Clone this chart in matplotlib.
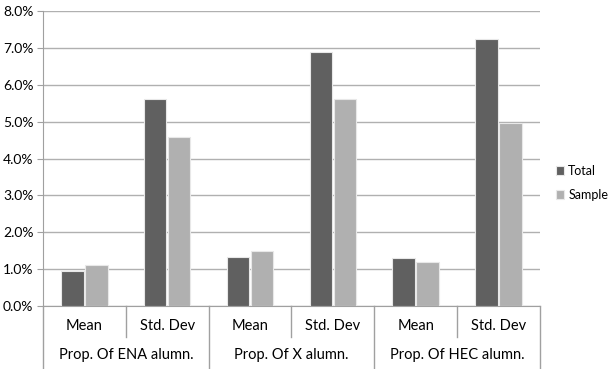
import matplotlib.pyplot as plt
import numpy as np
from matplotlib.lines import Line2D

groups = ["Prop. Of ENA alumn.", "Prop. Of X alumn.", "Prop. Of HEC alumn."]
stats = ["Mean", "Std. Dev"]
total = [0.95, 5.61, 1.33, 6.90, 1.30, 7.25]
sample = [1.10, 4.57, 1.49, 5.61, 1.19, 4.95]

plt.rcParams['font.family'] = ['Lato', 'DejaVu Sans']

fig = plt.figure(figsize=(6.12, 3.69), dpi=100)
ax = fig.add_axes([0.0703, 0.1707, 0.8117, 0.7995])

x = np.arange(len(total)) + 0.5
w = 0.27
off = 0.145
ax.bar(x - off, total, w, color="#606060", edgecolor="#e8e8e8", linewidth=0.8, label="Total", zorder=3)
ax.bar(x + off, sample, w, color="#b0b0b0", edgecolor="#e8e8e8", linewidth=0.8, label="Sample", zorder=3)

ax.set_xlim(0, 6)
ax.set_ylim(0, 8)
ax.set_yticks(np.arange(0, 9, 1))
ax.set_yticklabels(["%.1f%%" % v for v in np.arange(0, 9, 1)])
ax.yaxis.grid(True, color="#b0b0b0", linewidth=1)
ax.set_axisbelow(True)
ax.set_xticks([])
for s in ["top", "right"]:
    ax.spines[s].set_visible(False)
ax.spines["bottom"].set_color("#a0a0a0")
ax.spines["left"].set_color("#a0a0a0")
ax.spines["left"].set_bounds(0, 8)
ax.tick_params(axis="y", length=4, color="#a0a0a0", labelsize=10, pad=3)

trans = ax.get_xaxis_transform()
# short dividers between Mean / Std. Dev
for i in [1, 3, 5]:
    ax.add_line(Line2D([i, i], [0, -0.105], transform=trans, color="#a0a0a0", lw=1, clip_on=False))
# long dividers between groups
for i in [0, 2, 4, 6]:
    ax.add_line(Line2D([i, i], [0, -0.22], transform=trans, color="#a0a0a0", lw=1, clip_on=False))

for i, xc in enumerate(x):
    ax.text(xc, -0.068, stats[i % 2], transform=trans, ha="center", va="center", fontsize=10.5)
for j, g in enumerate(groups):
    ax.text(2 * j + 1, -0.166, g, transform=trans, ha="center", va="center", fontsize=10.5)

ax.legend(loc="center left", bbox_to_anchor=(1.032, 0.417), frameon=False, fontsize=9,
          borderpad=0, borderaxespad=0,
          handlelength=0.7, handleheight=0.7, handletextpad=0.3, labelspacing=1.0)

fig.savefig("out.png", dpi=100)
